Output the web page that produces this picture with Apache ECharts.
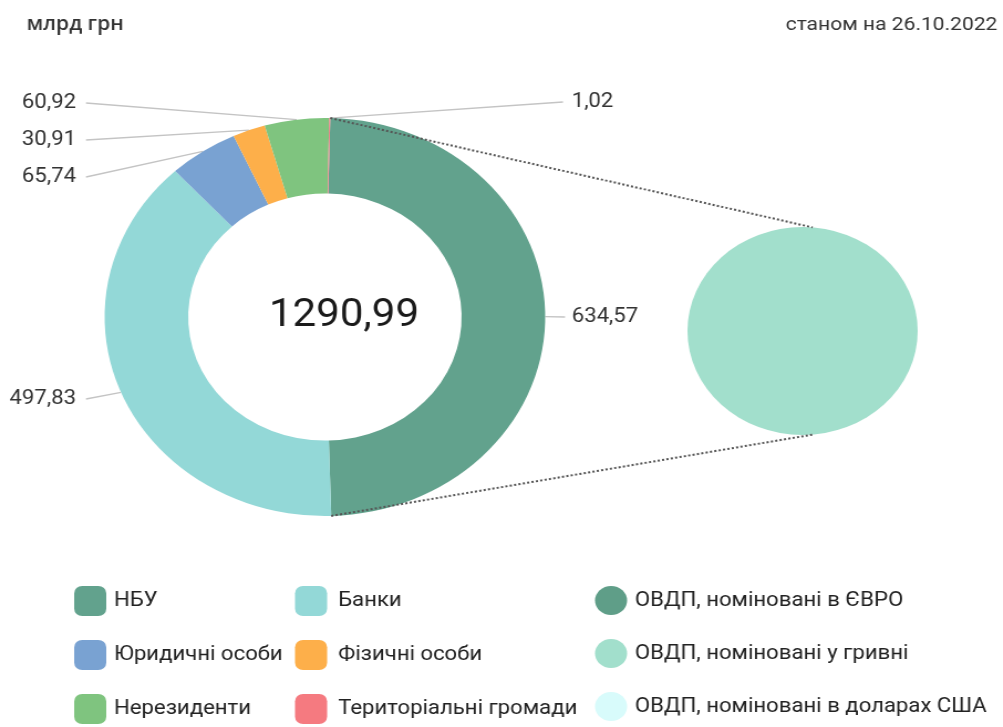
<!DOCTYPE html>
<html>
<head>
<meta charset="utf-8">
<script src="https://cdn.jsdelivr.net/npm/echarts@6/dist/echarts.min.js"></script>
<style>
  html, body { margin: 0; padding: 0; background: #ffffff; overflow: hidden; }
  #wrap { width: 1003px; height: 727px; overflow: hidden; }
  #chart { width: 906px; height: 727px; transform: scaleX(1.107); transform-origin: 0 0; }
</style>
</head>
<body>
<div id="wrap"><div id="chart"></div></div>
<script>
// ---- data ----
const unitLabel = 'млрд грн';
const dateLabel = 'станом на 26.10.2022';
const holders = ['НБУ', 'Банки', 'Юридичні особи', 'Фізичні особи', 'Нерезиденти', 'Територіальні громади'];
const holdings = [634.57, 497.83, 65.74, 30.91, 60.92, 1.02];
const nbuCurrencies = ['ОВДП, номіновані в ЄВРО', 'ОВДП, номіновані у гривні', 'ОВДП, номіновані в доларах США'];
const nbuByCurrency = [0, 634.57, 0];

// ---- styles / layout ----
const holderColors = ['#62a28d', '#93d8d7', '#79a2d2', '#fdaf4a', '#7fc47f', '#f57a80'];
const currencyColors = ['#5f9e88', '#a2dfcc', '#d8fbfb'];
const FONT = 'Roboto, "Noto Sans", sans-serif';
const donut = { cx: 293.5, cy: 317, r0: 123.5, r: 199, startAngle: 88.6 };
const pie2 = { cx: 725, cy: 331, r: 104 };
// label placement per holder slice
const labelPlace = [
  { x: 516.4, y: 317, align: 'left', lineEnd: [510.4, 317] },
  { x: 68.7, y: 399, align: 'right', lineEnd: [77.7, 399] },
  { x: 68.7, y: 177, align: 'right', lineEnd: [77.7, 177] },
  { x: 68.7, y: 140, align: 'right', lineEnd: [77.7, 140] },
  { x: 68.7, y: 103, align: 'right', lineEnd: [77.7, 103] },
  { x: 516.4, y: 102, align: 'left', lineEnd: [508.6, 102] }
];

const fmt = v => v.toFixed(2).replace('.', ',');
const total = holdings.reduce((a, b) => a + b, 0);

// connector lines between NBU slice and second pie
const nbuStartDeg = 90 - donut.startAngle;              // degrees clockwise from top
const nbuEndDeg = nbuStartDeg + holdings[0] / total * 360;
const rad = d => d * Math.PI / 180;
function ptOn(c, r, degFromTop) {
  return [c.cx + r * Math.sin(rad(degFromTop)), c.cy - r * Math.cos(rad(degFromTop))];
}
const a1 = ptOn(donut, donut.r, nbuStartDeg);
const a2 = ptOn(donut, donut.r, nbuEndDeg);
const b1 = ptOn(pie2, pie2.r, 5);
const b2 = ptOn(pie2, pie2.r, 175);

const chart = echarts.init(document.getElementById('chart'), null, { renderer: 'canvas' });

const legendCommon = {
  orient: 'vertical',
  selectedMode: false,
  padding: 0,
  itemWidth: 29,
  itemHeight: 30,
  itemGap: 24,
  top: 586,
  textStyle: { fontSize: 20, color: '#222', fontFamily: FONT, padding: [0, 0, 0, 2] }
};

chart.setOption({
  animation: false,
  backgroundColor: '#ffffff',
  title: [
    { text: unitLabel, left: 19, top: 10, textStyle: { fontSize: 19, fontWeight: 600, color: '#333', fontFamily: '"Open Sans", "Noto Sans", sans-serif' } },
    { text: dateLabel, right: 0, top: 11, textStyle: { fontSize: 19, fontWeight: 'normal', color: '#333', fontFamily: FONT } }
  ],
  legend: [
    Object.assign({}, legendCommon, { left: 67, icon: 'roundRect', data: [holders[0], holders[2], holders[4]] }),
    Object.assign({}, legendCommon, { left: 266.5, icon: 'roundRect', data: [holders[1], holders[3], holders[5]],
      textStyle: Object.assign({}, legendCommon.textStyle, { padding: [0, 0, 0, 5] }) }),
    Object.assign({}, legendCommon, { left: 537.5, icon: 'circle', data: nbuCurrencies })
  ],
  graphic: [
    { type: 'line', silent: true, z: 10, shape: { x1: a1[0], y1: a1[1], x2: b1[0], y2: b1[1] },
      style: { stroke: '#555', lineWidth: 2, lineDash: [2, 2] } },
    { type: 'line', silent: true, z: 10, shape: { x1: a2[0], y1: a2[1], x2: b2[0], y2: b2[1] },
      style: { stroke: '#555', lineWidth: 2, lineDash: [2, 2] } },
    { type: 'text', silent: true, z: 10, x: 310.7, y: 316,
      style: { text: fmt(total), fontSize: 38, fill: '#1a1a1a', fontFamily: FONT, align: 'center', verticalAlign: 'middle' } }
  ],
  series: [
    {
      type: 'pie',
      name: 'holders',
      center: [donut.cx, donut.cy],
      radius: [donut.r0, donut.r],
      startAngle: donut.startAngle,
      clockwise: true,
      avoidLabelOverlap: false,
      itemStyle: { borderWidth: 0 },
      label: {
        show: true,
        position: 'outside',
        formatter: p => fmt(p.value),
        fontSize: 20,
        color: '#333',
        fontFamily: FONT
      },
      labelLine: { show: true, length: 10, length2: 10, lineStyle: { color: '#c4c4c4', width: 1.3 } },
      labelLayout: function (params) {
        const pl = labelPlace[params.dataIndex];
        const start = params.labelLinePoints ? params.labelLinePoints[0] : pl.lineEnd;
        return {
          x: pl.x, y: pl.y, align: pl.align, verticalAlign: 'middle',
          labelLinePoints: [start, pl.lineEnd]
        };
      },
      emphasis: { disabled: true },
      data: holders.map((n, i) => ({ name: n, value: holdings[i], itemStyle: { color: holderColors[i] } }))
    },
    {
      type: 'pie',
      name: 'nbu',
      center: [pie2.cx, pie2.cy],
      radius: [0, pie2.r],
      startAngle: 90,
      label: { show: false },
      labelLine: { show: false },
      itemStyle: { borderWidth: 0 },
      emphasis: { disabled: true },
      data: nbuCurrencies.map((n, i) => ({ name: n, value: nbuByCurrency[i], itemStyle: { color: currencyColors[i] } }))
    }
  ]
});
</script>
</body>
</html>
